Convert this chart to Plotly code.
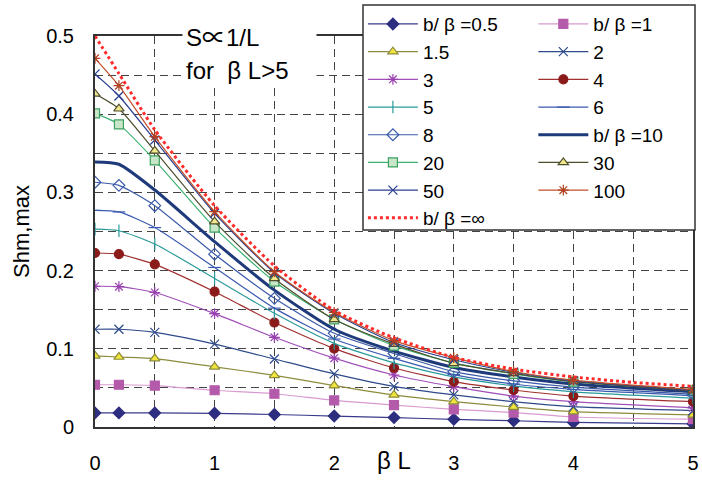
import plotly.graph_objects as go

x_vals = [0, 0.2, 0.5, 1, 1.5, 2, 2.5, 3, 3.5, 4, 5]
x_inf = [0, 0.2, 0.5, 1, 1.5, 2, 2.5, 3, 3.5, 4, 4.5, 5]

s_05 = [0.018, 0.018, 0.018, 0.0175, 0.016, 0.014, 0.012, 0.0098, 0.008, 0.0058, 0.004]
s_1 = [0.054, 0.054, 0.053, 0.047, 0.0425, 0.034, 0.028, 0.0226, 0.0185, 0.0128, 0.010]
s_15 = [0.091, 0.0895, 0.0875, 0.077, 0.066, 0.053, 0.041, 0.0324, 0.0255, 0.0196, 0.0155]
s_2 = [0.125, 0.125, 0.121, 0.106, 0.087, 0.068, 0.052, 0.041, 0.0324, 0.026, 0.021]
s_3 = [0.180, 0.1795, 0.172, 0.145, 0.1147, 0.088, 0.0665, 0.0516, 0.0396, 0.0324, 0.0245]
s_4 = [0.2225, 0.221, 0.208, 0.173, 0.1336, 0.1003, 0.0755, 0.058, 0.0473, 0.0396, 0.0324]
s_5 = [0.253, 0.251, 0.234, 0.190, 0.1454, 0.107, 0.082, 0.064, 0.0525, 0.045, 0.037]
s_6 = [0.277, 0.275, 0.255, 0.204, 0.152, 0.1125, 0.0878, 0.067, 0.055, 0.048, 0.040]
s_8 = [0.313, 0.309, 0.283, 0.221, 0.1645, 0.1198, 0.094, 0.0708, 0.059, 0.051, 0.042]
s_10 = [0.339, 0.336, 0.303, 0.237, 0.175, 0.125, 0.097, 0.076, 0.064, 0.055, 0.045]
s_20 = [0.401, 0.387, 0.341, 0.255, 0.186, 0.1377, 0.104, 0.082, 0.068, 0.058, 0.047]
s_30 = [0.426, 0.407, 0.353, 0.2626, 0.190, 0.1377, 0.106, 0.0814, 0.0686, 0.058, 0.0464]
s_50 = [0.4514, 0.4233, 0.367, 0.2733, 0.1973, 0.1454, 0.108, 0.086, 0.070, 0.059, 0.047]
s_100 = [0.4715, 0.4365, 0.3712, 0.2753, 0.1986, 0.1467, 0.1104, 0.0887, 0.071, 0.060, 0.048]
s_inf = [0.5, 0.452, 0.38, 0.283, 0.206, 0.149, 0.114, 0.089, 0.074, 0.064, 0.057, 0.052]

names = ["b/ β =0.5", "b/ β =1", "1.5", "2", "3", "4", "5", "6", "8",
         "b/ β =10", "20", "30", "50", "100", "b/ β =∞"]

FONT = "Liberation Sans, Arial, Noto Sans CJK JP, sans-serif"

# (name, y, line color, line width, marker symbol, marker fill, marker line, legend)
specs = [
    (names[0], s_05, "#3A3A8C", 1.2, "diamond", "#2E2E80", "#2E2E80", "legend"),
    (names[1], s_1, "#D89AD0", 1.2, "square", "#B45AAA", "#B45AAA", "legend2"),
    (names[2], s_15, "#8C8C3C", 1.2, "triangle-up", "#F2E63C", "#8C8C3C", "legend"),
    (names[3], s_2, "#2E4A8A", 1.2, "x-thin-open", "#2E4A8A", "#2E4A8A", "legend2"),
    (names[4], s_3, "#A050B8", 1.2, "asterisk-open", "#9A3FB0", "#9A3FB0", "legend"),
    (names[5], s_4, "#A03030", 1.2, "circle", "#8B1A1A", "#8B1A1A", "legend2"),
    (names[6], s_5, "#2A9A9A", 1.2, "line-ns-open", "#2A9A9A", "#2A9A9A", "legend"),
    (names[7], s_6, "#3A5AB0", 1.2, "line-ew-open", "#3A5AB0", "#3A5AB0", "legend2"),
    (names[8], s_8, "#3A5AA8", 1.2, "diamond-open", "#3A5AA8", "#3A5AA8", "legend"),
    (names[9], s_10, "#1F3A7A", 3.0, None, None, None, "legend2"),
    (names[10], s_20, "#3CB371", 1.2, "square", "#C8E6C8", "#3CA060", "legend"),
    (names[11], s_30, "#4E4E2E", 1.2, "triangle-up", "#F0E68C", "#4E4E2E", "legend2"),
    (names[12], s_50, "#2A3F8F", 1.2, "x-thin-open", "#2A3F8F", "#2A3F8F", "legend"),
    (names[13], s_100, "#C0502A", 1.2, "asterisk-open", "#B04020", "#B04020", "legend2"),
]

fig = go.Figure()
for name, ys, lc, lw, sym, mfill, mline, lg in specs:
    if sym is None:
        fig.add_trace(go.Scatter(x=x_vals, y=ys, name=name, mode="lines",
                                 line=dict(color=lc, width=lw, shape="spline", smoothing=0.6),
                                 legend=lg))
    else:
        fig.add_trace(go.Scatter(x=x_vals, y=ys, name=name, mode="lines+markers",
                                 line=dict(color=lc, width=lw, shape="spline", smoothing=0.6),
                                 marker=dict(symbol=sym, size=9, color=mfill,
                                             line=dict(color=mline, width=1.2)),
                                 legend=lg))
fig.add_trace(go.Scatter(x=x_inf, y=s_inf, name=names[14], mode="lines",
                         line=dict(color="#FF2A2A", width=3, dash="dot", shape="spline", smoothing=0.6),
                         legend="legend"))

grid = dict(showgrid=True, gridcolor="#444444", gridwidth=1, griddash="8px,5px")
leg_common = dict(yanchor="top", xanchor="left", bgcolor="rgba(0,0,0,0)", borderwidth=0,
                  itemwidth=50, font=dict(size=19), tracegroupgap=0, maxheight=1000)
fig.update_layout(
    width=702, height=480,
    margin=dict(l=95, r=9, t=36, b=53, autoexpand=False),
    paper_bgcolor="white", plot_bgcolor="white",
    font=dict(family=FONT, size=20, color="black"),
    showlegend=True,
    xaxis=dict(range=[0, 5], dtick=1, tick0=0, **grid, automargin=False,
               minor=dict(dtick=0.5, showgrid=True, gridcolor="#444444", griddash="8px,5px"),
               showline=True, linecolor="#333333", linewidth=2, mirror=True,
               ticks="outside", ticklen=17, tickcolor="rgba(0,0,0,0)",
               tickfont=dict(size=20), zeroline=False),
    yaxis=dict(range=[0, 0.5], dtick=0.1, tick0=0, **grid, automargin=False,
               minor=dict(dtick=0.05, showgrid=True, gridcolor="#444444", griddash="8px,5px"),
               showline=True, linecolor="#333333", linewidth=2, mirror=True,
               ticks="outside", ticklen=15, tickcolor="rgba(0,0,0,0)",
               tickfont=dict(size=20), zeroline=False,
               title=dict(text="Shm,max", font=dict(size=22), standoff=10)),
    legend=dict(x=0.448, y=1.079, **leg_common),
    legend2=dict(x=0.733, y=1.079, **leg_common),
    shapes=[dict(type="rect", xref="paper", yref="paper",
                 x0=(363 - 95) / 598, x1=(695 - 95) / 598, y0=(427 - 230) / 391, y1=(427 - 5) / 391,
                 fillcolor="white", line=dict(color="#333333", width=1.5), layer="above")],
    annotations=[
        dict(text="S∝1/L", x=(182 - 95) / 598, y=(427 - 38) / 391, xref="paper", yref="paper",
             xanchor="left", yanchor="middle", showarrow=False, align="left",
             width=127, borderpad=3, bgcolor="white", font=dict(size=24)),
        dict(text="for  β L>5", x=(182 - 95) / 598, y=(427 - 70) / 391, xref="paper", yref="paper",
             xanchor="left", yanchor="middle", showarrow=False, align="left",
             width=127, borderpad=3, bgcolor="white", font=dict(size=24)),
        dict(text="β L", x=2.5, y=-0.085, xref="x", yref="paper",
             xanchor="center", yanchor="middle", showarrow=False, font=dict(size=24)),
    ],
)

fig.write_html("out.html", config={"displayModeBar": False},
               post_script="document.body.style.margin='0';")
